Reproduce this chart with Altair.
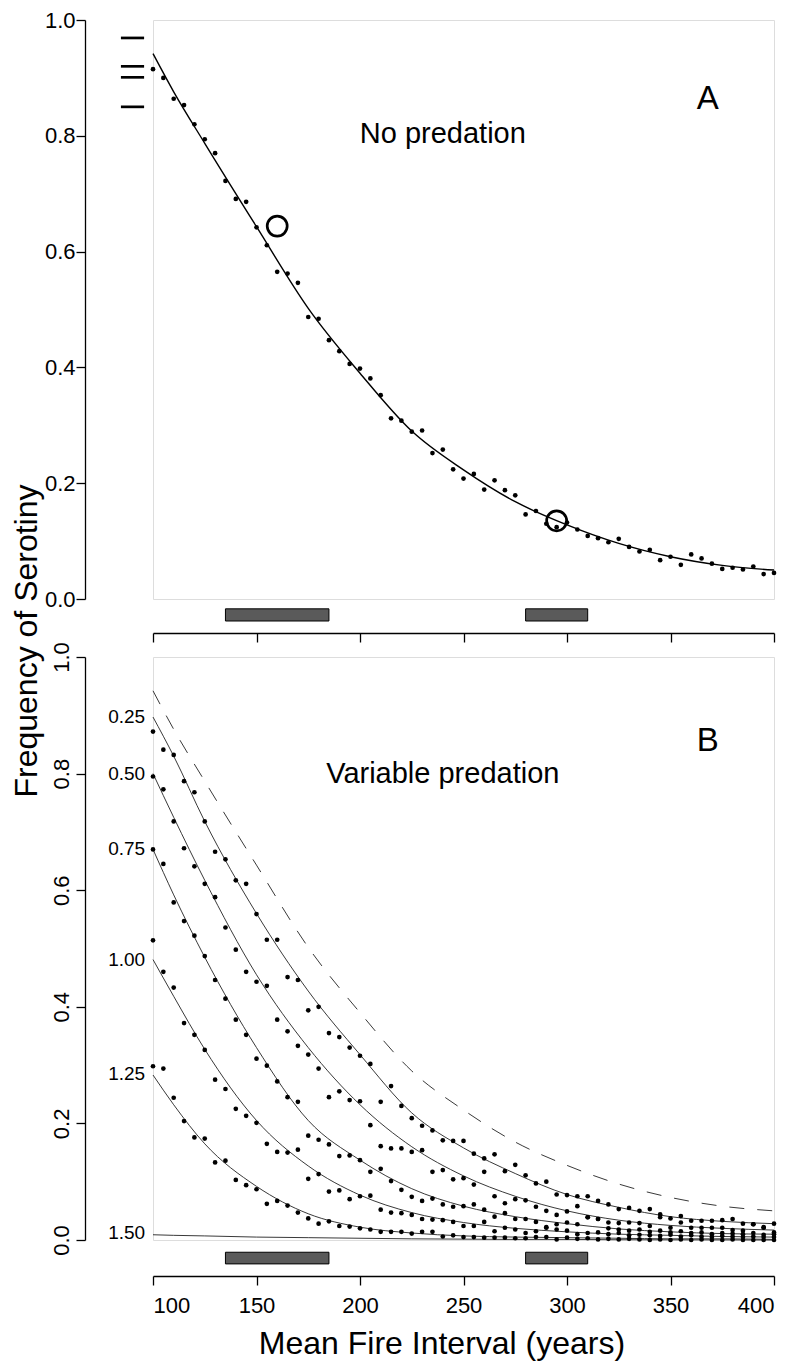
import altair as alt
import pandas as pd

FONT = "Liberation Sans"

# ---------------- data ----------------
X_DOTS = list(range(100, 405, 5))
FIT_X = [100, 110, 125, 150, 175, 200, 225, 250, 275, 300, 325, 350, 375, 400]

NO_PRED_FIT = [0.942, 0.876, 0.787, 0.643, 0.502, 0.390, 0.290, 0.223, 0.168, 0.128, 0.096, 0.073, 0.058, 0.050]
NO_PRED_DOTS = [0.915, 0.900, 0.864, 0.853, 0.820, 0.794, 0.770, 0.722, 0.691, 0.686, 0.642, 0.611, 0.565, 0.562, 0.546, 0.487, 0.484, 0.447, 0.428,
                0.406, 0.398, 0.381, 0.352, 0.312, 0.308, 0.289, 0.291, 0.252, 0.258,
                0.224, 0.208, 0.216, 0.189, 0.205, 0.188, 0.179, 0.146, 0.152, 0.130,
                0.124, 0.132, 0.120, 0.109, 0.105, 0.098, 0.104, 0.090, 0.082, 0.085,
                0.067, 0.073, 0.059, 0.077, 0.070, 0.061, 0.052, 0.054, 0.051, 0.056,
                0.043, 0.045]

OBS_X = [160, 295]
OBS_Y = [0.644, 0.135]

OBS_MARGIN_Y = [0.969, 0.920, 0.901, 0.850]
OBS_MARGIN_X = [84.5, 95.7]

BAR_START = [135, 280]
BAR_END = [185, 310]
BAR_Y_A = [-0.038, -0.017]
BAR_Y_B = [-0.041, -0.021]

LEVELS = ["0.25", "0.50", "0.75", "1.00", "1.25", "1.50"]
LEVEL_LABEL_Y = [0.897, 0.800, 0.670, 0.481, 0.284, 0.012]
LABEL_X = 96.2

CURVE_025 = [0.897, 0.830, 0.718, 0.560, 0.427, 0.318, 0.218, 0.158, 0.114, 0.078, 0.056, 0.040, 0.032, 0.028]
CURVE_050 = [0.800, 0.725, 0.617, 0.455, 0.330, 0.232, 0.160, 0.110, 0.075, 0.050, 0.034, 0.025, 0.020, 0.017]
CURVE_075 = [0.670, 0.592, 0.485, 0.330, 0.205, 0.137, 0.088, 0.058, 0.040, 0.028, 0.019, 0.014, 0.011, 0.010]
CURVE_100 = [0.481, 0.418, 0.327, 0.205, 0.127, 0.077, 0.047, 0.030, 0.020, 0.014, 0.010, 0.008, 0.006, 0.005]
CURVE_125 = [0.283, 0.232, 0.165, 0.092, 0.045, 0.022, 0.012, 0.007, 0.005, 0.004, 0.003, 0.002, 0.002, 0.001]
CURVE_150 = [0.009, 0.008, 0.007, 0.005, 0.004, 0.003, 0.002, 0.0015, 0.001, 0.001, 0.0005, 0.0003, 0.0002, 0.0]

DOTS_025 = [0.872, 0.841, 0.832, 0.787, 0.768, 0.718, 0.666, 0.653, 0.617, 0.611, 0.559, 0.515, 0.515, 0.451, 0.446, 0.394, 0.400, 0.355, 0.348,
            0.330, 0.316, 0.302, 0.237, 0.264, 0.230, 0.209, 0.196, 0.188, 0.171,
            0.170, 0.170, 0.148, 0.140, 0.147, 0.118, 0.129, 0.111, 0.097, 0.100,
            0.078, 0.077, 0.075, 0.075, 0.067, 0.061, 0.053, 0.055, 0.050, 0.053,
            0.044, 0.037, 0.041, 0.033, 0.033, 0.033, 0.034, 0.036, 0.028, 0.027,
            0.022, 0.028]
DOTS_050 = [0.795, 0.773, 0.718, 0.672, 0.641, 0.611, 0.588, 0.536, 0.498, 0.460, 0.443, 0.436, 0.378, 0.358, 0.333, 0.318, 0.294, 0.245, 0.255,
            0.240, 0.238, 0.197, 0.161, 0.157, 0.157, 0.151, 0.154, 0.117, 0.120,
            0.104, 0.106, 0.095, 0.117, 0.075, 0.063, 0.070, 0.068, 0.057, 0.050,
            0.043, 0.049, 0.058, 0.039, 0.036, 0.030, 0.029, 0.030, 0.029, 0.024,
            0.039, 0.021, 0.030, 0.021, 0.021, 0.021, 0.021, 0.017, 0.016, 0.027,
            0.021, 0.013]
DOTS_075 = [0.670, 0.645, 0.579, 0.547, 0.522, 0.487, 0.446, 0.414, 0.378, 0.352, 0.311, 0.299, 0.272, 0.245, 0.237, 0.179, 0.172, 0.164, 0.144,
            0.145, 0.137, 0.117, 0.122, 0.101, 0.086, 0.074, 0.067, 0.071, 0.061,
            0.057, 0.058, 0.061, 0.052, 0.040, 0.046, 0.036, 0.036, 0.031, 0.022,
            0.027, 0.030, 0.027, 0.039, 0.036, 0.020, 0.018, 0.016, 0.018, 0.014,
            0.016, 0.013, 0.015, 0.012, 0.013, 0.010, 0.012, 0.011, 0.010, 0.012,
            0.009, 0.010]
DOTS_100 = [0.514, 0.460, 0.433, 0.372, 0.352, 0.326, 0.275, 0.259, 0.225, 0.213, 0.201, 0.165, 0.151, 0.150, 0.155, 0.105, 0.113, 0.083, 0.085,
            0.070, 0.075, 0.076, 0.052, 0.047, 0.046, 0.043, 0.036, 0.035, 0.034,
            0.031, 0.024, 0.024, 0.031, 0.015, 0.021, 0.018, 0.012, 0.015, 0.021,
            0.018, 0.016, 0.010, 0.012, 0.013, 0.010, 0.012, 0.008, 0.009, 0.008,
            0.007, 0.009, 0.006, 0.008, 0.006, 0.005, 0.007, 0.006, 0.005, 0.006,
            0.005, 0.005]
DOTS_125 = [0.298, 0.294, 0.244, 0.204, 0.176, 0.174, 0.133, 0.136, 0.103, 0.094, 0.087, 0.062, 0.067, 0.059, 0.047, 0.037, 0.028, 0.032, 0.024,
            0.023, 0.020, 0.018, 0.014, 0.014, 0.014, 0.011, 0.014, 0.014, 0.006,
            0.008, 0.005, 0.005, 0.004, 0.004, 0.004, 0.003, 0.003, 0.005, 0.005,
            0.001, 0.004, 0.002, 0.003, 0.001, 0.002, 0.001, 0.002, 0.001, 0.000,
            0.001, 0.000, 0.001, 0.000, 0.001, 0.000, 0.000, 0.001, 0.000, 0.000,
            0.000, 0.000]

X_TICKS = [100, 150, 200, 250, 300, 350, 400]
Y_TICKS = [0.0, 0.2, 0.4, 0.6, 0.8, 1.0]

# ---------------- frames ----------------
df_fit_a = pd.DataFrame({"x": FIT_X, "y": NO_PRED_FIT})
df_dots_a = pd.DataFrame({"x": X_DOTS, "y": NO_PRED_DOTS})
df_obs = pd.DataFrame({"x": OBS_X, "y": OBS_Y})
rows = []
for i, yv in enumerate(OBS_MARGIN_Y):
    for xv in OBS_MARGIN_X:
        rows.append({"x": xv, "y": yv, "id": i})
df_margin = pd.DataFrame(rows)
df_bars_a = pd.DataFrame({"x": BAR_START, "x2": BAR_END,
                          "y": [BAR_Y_A[0]] * 2, "y2": [BAR_Y_A[1]] * 2})
df_bars_b = pd.DataFrame({"x": BAR_START, "x2": BAR_END,
                          "y": [BAR_Y_B[0]] * 2, "y2": [BAR_Y_B[1]] * 2})

curves = [CURVE_025, CURVE_050, CURVE_075, CURVE_100, CURVE_125, CURVE_150]
rows = []
for lev, cv in zip(LEVELS, curves):
    for xv, yv in zip(FIT_X, cv):
        rows.append({"x": xv, "y": yv, "level": lev})
df_curves_b = pd.DataFrame(rows)

dots = [DOTS_025, DOTS_050, DOTS_075, DOTS_100, DOTS_125]
rows = []
for lev, dv in zip(LEVELS, dots):
    for xv, yv in zip(X_DOTS, dv):
        rows.append({"x": xv, "y": yv, "level": lev})
df_dots_b = pd.DataFrame(rows)

df_dash_b = pd.DataFrame({"x": FIT_X, "y": NO_PRED_FIT})
df_labels_b = pd.DataFrame({"x": [LABEL_X] * len(LEVELS), "y": LEVEL_LABEL_Y, "t": LEVELS})

# ---------------- scales / axes ----------------
xs = alt.Scale(domain=[100, 400], nice=False, zero=False)
ys = alt.Scale(domain=[0, 1], nice=False, zero=False)

common_axis = dict(grid=False, title=None, domainColor="black", tickColor="black",
                   domainWidth=1.3, tickWidth=1.3, tickSize=9,
                   labelFont=FONT, labelColor="black", labelFontSize=22)

ax_x_a = alt.Axis(values=X_TICKS, labels=False, offset=34, **common_axis)
ax_y_a = alt.Axis(values=Y_TICKS, format=".1f", labelAngle=0, labelAlign="right",
                  labelBaseline="middle", labelPadding=1, offset=68, **common_axis)
ax_x_b = alt.Axis(values=X_TICKS, format="d", labelPadding=10, offset=36, **common_axis)
ax_y_b = alt.Axis(values=Y_TICKS, format=".1f", labelAngle=270, labelAlign="center",
                  labelBaseline="bottom", labelPadding=3, offset=68, **common_axis)


def XY(ax_x, ax_y):
    return dict(x=alt.X("x:Q", scale=xs, axis=ax_x), y=alt.Y("y:Q", scale=ys, axis=ax_y))


W = 621
H_A = 579
H_B = 583

# ---------------- panel A ----------------
a_fit = alt.Chart(df_fit_a).mark_line(color="black", strokeWidth=1.4, interpolate="monotone").encode(**XY(ax_x_a, ax_y_a))
a_dots = alt.Chart(df_dots_a).mark_circle(color="black", size=22, opacity=1).encode(**XY(ax_x_a, ax_y_a))
a_obs = alt.Chart(df_obs).mark_point(shape="circle", filled=False, color="black", size=400,
                                     strokeWidth=2.7, opacity=1).encode(**XY(ax_x_a, ax_y_a))
a_margin = alt.Chart(df_margin).mark_line(color="black", strokeWidth=2.7, strokeCap="butt").encode(
    detail="id:N", **XY(ax_x_a, ax_y_a))
a_bars = alt.Chart(df_bars_a).mark_rect(fill="#5a5a5a", stroke="black", strokeWidth=1).encode(
    x=alt.X("x:Q", scale=xs, axis=ax_x_a), x2="x2:Q",
    y=alt.Y("y:Q", scale=ys, axis=ax_y_a), y2="y2:Q")
a_txt = alt.Chart(pd.DataFrame({"x": [240], "y": [0.788], "t": ["No predation"]})).mark_text(
    font=FONT, fontSize=29, color="black", align="center", baseline="alphabetic").encode(
    text="t:N", **XY(ax_x_a, ax_y_a))
a_letter = alt.Chart(pd.DataFrame({"x": [368], "y": [0.846], "t": ["A"]})).mark_text(
    font=FONT, fontSize=33, color="black", align="center", baseline="alphabetic").encode(
    text="t:N", **XY(ax_x_a, ax_y_a))
y_title = alt.Chart(pd.DataFrame({"t": ["Frequency of Serotiny"]})).mark_text(
    font=FONT, fontSize=32, color="black", angle=270, align="center", baseline="middle").encode(
    text="t:N", x=alt.value(-126.5), y=alt.value(621))

panel_a = alt.layer(a_bars, a_fit, a_dots, a_obs, a_margin, a_txt, a_letter, y_title).properties(
    width=W, height=H_A)

# ---------------- panel B ----------------
b_dash = alt.Chart(df_dash_b).mark_line(color="#222222", strokeWidth=0.9, strokeDash=[15, 13],
                                        interpolate="monotone").encode(**XY(ax_x_b, ax_y_b))
b_curves = alt.Chart(df_curves_b).mark_line(color="#222222", strokeWidth=0.9, interpolate="monotone").encode(
    detail="level:N", **XY(ax_x_b, ax_y_b))
b_dots = alt.Chart(df_dots_b).mark_circle(color="black", size=22, opacity=1).encode(**XY(ax_x_b, ax_y_b))
b_bars = alt.Chart(df_bars_b).mark_rect(fill="#5a5a5a", stroke="black", strokeWidth=1).encode(
    x=alt.X("x:Q", scale=xs, axis=ax_x_b), x2="x2:Q",
    y=alt.Y("y:Q", scale=ys, axis=ax_y_b), y2="y2:Q")
b_labels = alt.Chart(df_labels_b).mark_text(font=FONT, fontSize=19, color="black", align="right",
                                            baseline="middle").encode(text="t:N", **XY(ax_x_b, ax_y_b))
b_txt = alt.Chart(pd.DataFrame({"x": [240], "y": [0.784], "t": ["Variable predation"]})).mark_text(
    font=FONT, fontSize=29, color="black", align="center", baseline="alphabetic").encode(
    text="t:N", **XY(ax_x_b, ax_y_b))
b_letter = alt.Chart(pd.DataFrame({"x": [368], "y": [0.839], "t": ["B"]})).mark_text(
    font=FONT, fontSize=33, color="black", align="center", baseline="alphabetic").encode(
    text="t:N", **XY(ax_x_b, ax_y_b))
x_title = alt.Chart(pd.DataFrame({"t": ["Mean Fire Interval (years)"]})).mark_text(
    font=FONT, fontSize=32, color="black", align="center", baseline="middle").encode(
    text="t:N", x=alt.value(289), y=alt.value(687))

panel_b = alt.layer(b_bars, b_dash, b_curves, b_dots, b_labels, b_txt, b_letter, x_title).properties(
    width=W, height=H_B)

chart = alt.vconcat(panel_a, panel_b, spacing=58, bounds="flush").properties(
    padding={"left": 2, "top": 0, "right": 0, "bottom": 0}
).configure_view(stroke=None).configure(background="white")

chart.save("out.html", embed_options={"renderer": "svg", "actions": False})
